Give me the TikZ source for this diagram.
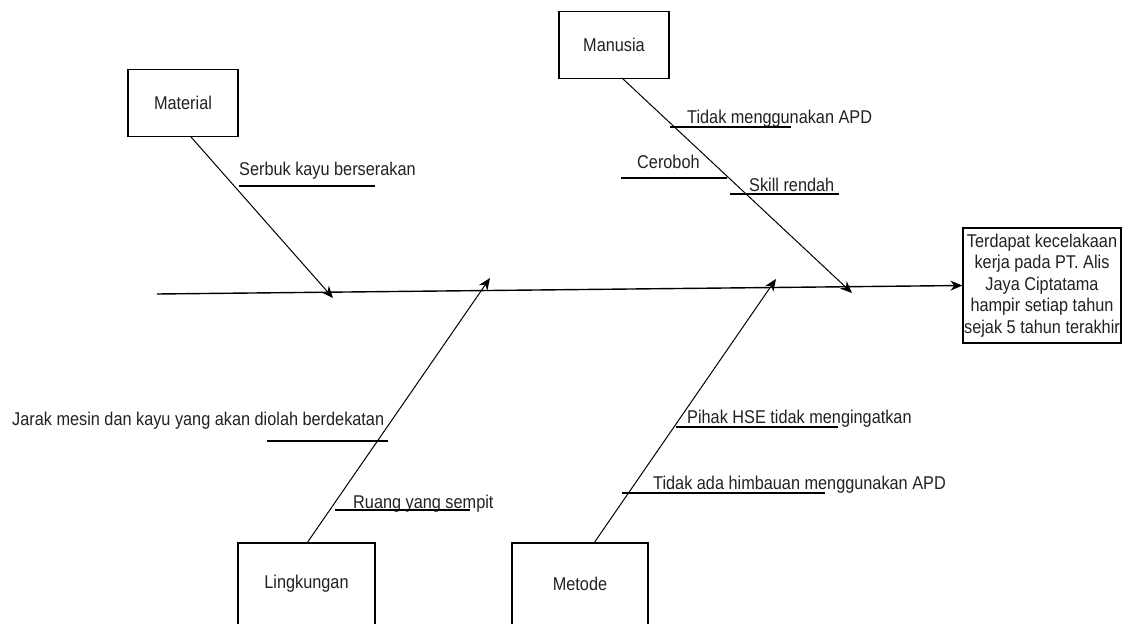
\documentclass[tikz,border=0pt]{standalone}
\usepackage{fontspec}
\setmainfont{Liberation Sans}[FakeStretch=0.88]
\usetikzlibrary{arrows.meta}
\definecolor{txt}{HTML}{222222}
\tikzset{
  cat/.style={draw=black, line width=1.2pt, minimum width=#1, minimum height=67pt, inner sep=0pt, font=\fontsize{18.5}{21}\selectfont, text=txt},
  lbl/.style={anchor=base west, inner sep=0pt, font=\fontsize{18.5}{21}\selectfont, text=txt},
  bone/.style={draw=black, line width=1pt, -{Stealth[length=12pt,width=10pt]}},
  spine/.style={draw=black, line width=1.4pt, -{Stealth[length=12pt,width=10pt]}},
  uline/.style={draw=black, line width=1.2pt}
}
\begin{document}
\begin{tikzpicture}[x=1pt,y=-1pt]
\useasboundingbox[fill=white] (0,0) rectangle (1123,623);
\clip (0,0) rectangle (1123,623);
% category boxes
\node[cat=110pt] (mat) at (183,103) {Material};
\node[cat=110pt] (man) at (614,45) {Manusia};
\node[cat=137pt, minimum height=82pt] (lin) at (306.5,584) {Lingkungan};
\node[cat=136pt, minimum height=82pt] (met) at (580,584) {Metode};
% effect box
\node[draw=black, line width=1.2pt, minimum width=158pt, minimum height=115pt, inner sep=1pt, align=center,
      font=\fontsize{18.5}{21.5}\selectfont, text=txt] (eff) at (1042,285.5)
  {Terdapat kecelakaan\\kerja pada PT. Alis\\Jaya Ciptatama\\hampir setiap tahun\\sejak 5 tahun terakhir};
% spine
\coordinate (s0) at (157,294);
\draw[spine] (s0) -- (eff.west);
% bone end points
\coordinate (matS) at (191,137);
\coordinate (matE) at (333,298);
\coordinate (manS) at (622,78);
\coordinate (manE) at (852,293);
\coordinate (linS) at (307,543);
\coordinate (linE) at (490,278);
\coordinate (metS) at (594,543);
\coordinate (metE) at (776,279);
\draw[bone] (matS) -- (matE);
\draw[bone] (manS) -- (manE);
\draw[bone] (linS) -- (linE);
\draw[bone] (metS) -- (metE);
% labels
\node[lbl] (t1) at (239,175) {Serbuk kayu berserakan};
\node[lbl] (t2) at (687,124) {Tidak menggunakan APD};
\node[lbl] (t3) at (637,168) {Ceroboh};
\node[lbl] (t4) at (749,191) {Skill rendah};
\node[lbl] (t5) at (12,425) {Jarak mesin dan kayu yang akan diolah berdekatan};
\node[lbl] (t6) at (353,508) {Ruang yang sempit};
\node[lbl] (t7) at (687,423) {Pihak HSE tidak mengingatkan};
\node[lbl] (t8) at (653,489) {Tidak ada himbauan menggunakan APD};
% underlines
\coordinate (u1a) at (239,186); \coordinate (u1b) at (375,186);
\coordinate (u2a) at (670,127); \coordinate (u2b) at (791,127);
\coordinate (u3a) at (621,178); \coordinate (u3b) at (727,178);
\coordinate (u4a) at (730,194); \coordinate (u4b) at (839,194);
\coordinate (u5a) at (267,441); \coordinate (u5b) at (388,441);
\coordinate (u6a) at (335,510); \coordinate (u6b) at (470,510);
\coordinate (u7a) at (676,427); \coordinate (u7b) at (838,427);
\coordinate (u8a) at (622,493); \coordinate (u8b) at (825,493);
\foreach \i in {1,...,8} {\draw[uline] (u\i a) -- (u\i b);}
\end{tikzpicture}
\end{document}
